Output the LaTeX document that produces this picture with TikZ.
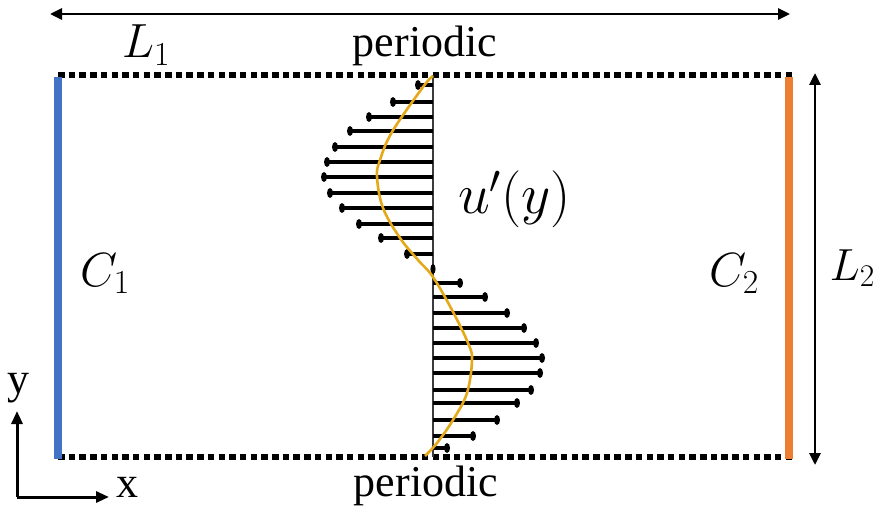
\RequirePackage{fix-cm}
\documentclass[tikz,border=0pt]{standalone}
\usepackage{fontspec}
\setmainfont{Liberation Serif}
\usetikzlibrary{arrows.meta}
\definecolor{wallblue}{RGB}{68,114,196}
\definecolor{wallorange}{RGB}{237,125,49}
\definecolor{profgold}{RGB}{228,168,24}
\definecolor{axisgray}{RGB}{60,60,60}
\begin{document}
\begin{tikzpicture}[x=1pt,y=-1pt,
  dashline/.style={line width=5.5pt, dash pattern=on 6.5pt off 4.2pt},
  dimarrow/.style={line width=2.8pt, {Triangle[length=12pt,width=11pt]}-{Triangle[length=12pt,width=11pt]}},
  axisarrow/.style={line width=3pt, -{Triangle[length=13pt,width=11pt]}},
  txt/.style={inner sep=0pt, font=\fontsize{44}{48}\selectfont},
  mth/.style={inner sep=0pt, font=\fontsize{48}{52}\selectfont},
  bigmth/.style={inner sep=0pt, font=\fontsize{57}{60}\selectfont},
  wall/.style={line width=7.5pt},
  bar/.style={line width=4pt},
  proftip/.style={fill=black}
]
\useasboundingbox (0,0) rectangle (876,508);
% corners
\coordinate (TL) at (58,75);
\coordinate (TR) at (792,75);
\coordinate (BL) at (58,457);
\coordinate (BR) at (792,457);
% dashed periodic boundaries
\draw[dashline] (TL) -- (TR);
\draw[dashline] (BL) -- (BR);
% walls
\coordinate (W1a) at (58,77);
\coordinate (W1b) at (58,459);
\coordinate (W2a) at (789,77);
\coordinate (W2b) at (789,459);
\draw[wall, wallblue] (W1a) -- (W1b);
\draw[wall, wallorange] (W2a) -- (W2b);
% dimension arrows
\coordinate (D1a) at (50,14);
\coordinate (D1b) at (790,14);
\draw[dimarrow] (D1a) -- (D1b);
\coordinate (D2a) at (815,73);
\coordinate (D2b) at (815,465);
\draw[dimarrow] (D2a) -- (D2b);
% axes
\coordinate (O) at (17,497);
\coordinate (Ytip) at (17,411);
\coordinate (Xtip) at (109,497);
\draw[axisarrow] (O) -- (Ytip);
\draw[axisarrow] (O) -- (Xtip);
% profile centre line
\coordinate (Ctop) at (433,75);
\coordinate (Cbot) at (433,457);
\draw[axisgray, line width=1.6pt] (Ctop) -- (Cbot);
% bars
\foreach \yy/\xx in {85/418,102/393,117/369,131/350,147/335,162/327,177/324,193/330,208/342,224/359,238/381,254/407,
                     283/460,297/485,313/507,328/524,343/536,358/542,373/540,390/531,403/517,420/497,436/473,448/447}{
  \draw[bar] (433,\yy) -- (\xx,\yy);
  \fill[proftip] (\xx,\yy) ellipse [x radius=3pt, y radius=5pt];
}
\fill[proftip] (433,269) ellipse [x radius=2.6pt, y radius=5pt];
% yellow profile curve
\draw[profgold, line width=2.6pt] plot[smooth, tension=0.6] coordinates {
 (433,76) (423,87) (392,132) (380,160) (377,177) (383,208) (400,238) (418,260) (433,277)
 (452,310) (468,343) (472,360) (467,393) (453,420) (437,443) (425,456)};
% labels
\node[txt, anchor=base] (pertop) at (425,57) {periodic};
\node[txt, anchor=base] (perbot) at (426,496) {periodic};
\node[txt, anchor=base] (ylab) at (19,393) {y};
\node[txt, anchor=base] (xlab) at (127,497) {x};
\node[mth, anchor=base west] (L1) at (122,58) {$L_1$};
\node[mth, anchor=base east, font=\fontsize{45}{50}\selectfont] (L2) at (875,280) {$L_2$};
\node[mth, anchor=base west] (C1) at (80,286) {$C_1$};
\node[mth, anchor=base west] (C2) at (709,286) {$C_2$};
\node[bigmth, anchor=base west] (uprime) at (458,214) {$u'(y)$};
\end{tikzpicture}
\end{document}
